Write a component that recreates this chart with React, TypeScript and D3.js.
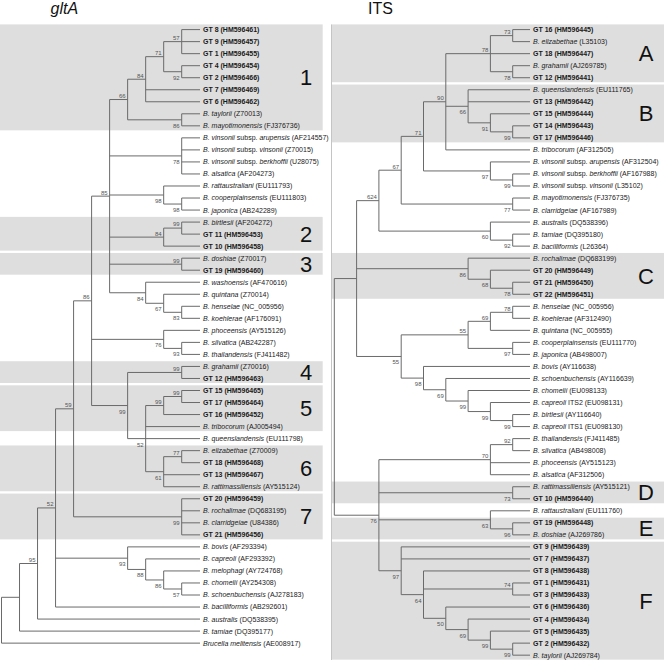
import React from "react";
import * as d3 from "d3";

// ---------------- DATA ----------------
// gltA tree leaves (top to bottom). "!" = bold, *...* = italic
const GLTA_LEAVES = [
  "!GT 8 (HM596461)", "!GT 9 (HM596457)", "!GT 1 (HM596455)", "!GT 4 (HM596454)", "!GT 2 (HM596466)",
  "!GT 7 (HM596469)", "!GT 6 (HM596462)", "*B. taylorii* (Z70013)", "*B. mayotimonensis* (FJ376736)",
  "*B. vinsonii* subsp. *arupensis* (AF214557)", "*B. vinsonii* subsp. *vinsonii* (Z70015)",
  "*B. vinsonii* subsp. *berkhoffii* (U28075)", "*B. alsatica* (AF204273)", "*B. rattaustraliani* (EU111793)",
  "*B. cooperplainsensis* (EU111803)", "*B. japonica* (AB242289)", "*B. birtlesii* (AF204272)",
  "!GT 11 (HM596453)", "!GT 10 (HM596458)", "*B. doshiae* (Z70017)", "!GT 19 (HM596460)",
  "*B. washoensis* (AF470616)", "*B. quintana* (Z70014)", "*B. henselae* (NC_005956)",
  "*B. koehlerae* (AF176091)", "*B. phoceensis* (AY515126)", "*B. silvatica* (AB242287)",
  "*B. thailandensis* (FJ411482)", "*B. grahamii* (Z70016)", "!GT 12 (HM596463)", "!GT 15 (HM596465)",
  "!GT 17 (HM596464)", "!GT 16 (HM596452)", "*B. tribocorum* (AJ005494)", "*B. queenslandensis* (EU111798)",
  "*B. elizabethae* (Z70009)", "!GT 18 (HM596468)", "!GT 13 (HM596467)", "*B. rattimassiliensis* (AY515124)",
  "!GT 20 (HM596459)", "*B. rochalimae* (DQ683195)", "*B. clarridgeiae* (U84386)", "!GT 21 (HM596456)",
  "*B. bovis* (AF293394)", "*B. capreoli* (AF293392)", "*B. melophagi* (AY724768)", "*B. chomelii* (AY254308)",
  "*B. schoenbuchensis* (AJ278183)", "*B. bacilliformis* (AB292601)", "*B. australis* (DQ538395)",
  "*B. tamiae* (DQ395177)", "*Brucella melitensis* (AE008917)",
];

// Newick topology (leaf ids index the leaves array); label^ = bootstrap above branch, label_ = below
const GLTA_TREE =
  "((((((" +
  "(((((0,1,2)57^,(3,4)92_)71^,5,6)84^,(7,8)86_)66^,(9,10,11,12)78_,(13,(14,15)98_)98_," +
  "((16,17)99^,18)84^,(19,20)99^,(21,(22,(23,24)83_)67_)84_)85^," +
  "(25,(26,27)93_)76_," +
  "((28,29)99^,(((30,31)99^,32)99^,33,34,((35,36)77^,37,38)61_)52_)99_)86^," +
  "(39,40,41,42)99_)59^," +
  "(43,(44,(45,(46,47)57_)86_)88_)93_,48)52^,49)95^,50),51)";

const GLTA_BOX_LABELS = ["1", "2", "3", "4", "5", "6", "7"];
const GLTA_BOX_FIRST = [0, 16, 19, 28, 30, 35, 39];
const GLTA_BOX_LAST = [8, 18, 20, 29, 33, 38, 42];

// ITS tree leaves
const ITS_LEAVES = [
  "!GT 16 (HM596445)", "*B. elizabethae* (L35103)", "!GT 18 (HM596447)", "*B. grahamii* (AJ269785)",
  "!GT 12 (HM596441)", "*B. queenslandensis* (EU111765)", "!GT 13 (HM596442)", "!GT 15 (HM596444)",
  "!GT 14 (HM596443)", "!GT 17 (HM596446)", "*B. tribocorum* (AF312505)",
  "*B. vinsonii* subsp. *arupensis* (AF312504)", "*B. vinsonii* subsp. *berkhoffii* (AF167988)",
  "*B. vinsonii* subsp. *vinsonii* (L35102)", "*B. mayotimonensis* (FJ376735)", "*B. clarridgeiae* (AF167989)",
  "*B. australis* (DQ538396)", "*B. tamiae* (DQ395180)", "*B. bacilliformis* (L26364)",
  "*B. rochalimae* (DQ683199)", "!GT 20 (HM596449)", "!GT 21 (HM596450)", "!GT 22 (HM596451)",
  "*B. henselae* (NC_005956)", "*B. koehlerae* (AF312490)", "*B. quintana* (NC_005955)",
  "*B. cooperplainsensis* (EU111770)", "*B. japonica* (AB498007)", "*B. bovis* (AY116638)",
  "*B. schoenbuchensis* (AY116639)", "*B. chomelii* (EU098133)", "*B. capreoli* ITS2 (EU098131)",
  "*B. birtlesii* (AY116640)", "*B. capreoli* ITS1 (EU098130)", "*B. thailandensis* (FJ411485)",
  "*B. silvatica* (AB498008)", "*B. phoceensis* (AY515123)", "*B. alsatica* (AF312506)",
  "*B. rattimassiliensis* (AY515121)", "!GT 10 (HM596440)", "*B. rattaustraliani* (EU111760)",
  "!GT 19 (HM596448)", "*B. doshiae* (AJ269786)", "!GT 9 (HM596439)", "!GT 7 (HM596437)",
  "!GT 8 (HM596438)", "!GT 1 (HM596431)", "!GT 3 (HM596433)", "!GT 6 (HM596436)", "!GT 4 (HM596434)",
  "!GT 5 (HM596435)", "!GT 2 (HM596432)", "*B. taylorii* (AJ269784)",
];

const ITS_TREE =
  "((((((((0,1)73^,2,(3,4)78_)78^,(5,6,(7,(8,9)99_)91_)66_,10)90^,(11,(12,13)99_)97_)71^,(14,15)77_)67^," +
  "(16,(17,18)92_)60_)624^," +
  "(19,(20,(21,22)78_)68_)86_," +
  "((((23,24)78^,25)69^,(26,27)97_)55^,(28,(29,(30,(31,(32,33)99_)99_)99_)69_)98_)55_)," +
  "(((34,35)92^,36,37)70^,(38,39)73_,(40,(41,42)96_)63_," +
  "(43,44,(45,(46,47)74^,(48,(49,(50,(51,52)99_)99_)69_)50_)64_)97_)76_)";

const ITS_BOX_LABELS = ["A", "B", "C", "D", "E", "F"];
const ITS_BOX_FIRST = [0, 5, 19, 38, 41, 43];
const ITS_BOX_LAST = [4, 9, 22, 39, 42, 52];

// ---------------- LAYOUT ----------------
const W = 664;
const H = 660;
const ROW0 = 29.6;
const ROW = 12.03;
const FONT = "'Liberation Sans', Arial, Helvetica, sans-serif";
const LINE = "#6a6a6a";
const BOX = "#dedede";

type PNode = { children?: PNode[]; leaf?: number; label?: string; below?: boolean };

function parseNewick(src: string): PNode {
  const s = src.replace(/\s+/g, "");
  let i = 0;
  function parse(): PNode {
    if (s[i] === "(") {
      i++;
      const children: PNode[] = [];
      while (i < s.length) {
        children.push(parse());
        if (s[i] === ",") { i++; continue; }
        if (s[i] === ")") { i++; break; }
      }
      let lab = "";
      while (i < s.length && /[0-9\^_]/.test(s[i])) { lab += s[i]; i++; }
      const node: PNode = { children };
      if (lab) {
        node.below = lab.endsWith("_");
        node.label = lab.replace(/[\^_]/g, "");
      }
      return node;
    }
    let num = "";
    while (i < s.length && /[0-9]/.test(s[i])) { num += s[i]; i++; }
    return { leaf: +num };
  }
  return parse();
}

function LeafText({ s, x, y }: { s: string; x: number; y: number }) {
  const bold = s.startsWith("!");
  const body = bold ? s.slice(1) : s;
  const parts = body.split("*");
  return (
    <text x={x} y={y} dy="0.35em" fontSize={7} fontWeight={bold ? "bold" : "normal"} fill="#1a1a1a"
      style={{ whiteSpace: "pre" }}>
      {parts.map((p, k) =>
        p ? <tspan key={k} fontStyle={k % 2 === 1 ? "italic" : "normal"}>{p}</tspan> : null
      )}
    </text>
  );
}

function Tree({ newick, leaves, leafX, x1, xRoot, boxLabels, boxFirst, boxLast, boxX0, boxX1, boxLabelX }: any) {
  const root: any = d3.hierarchy(parseNewick(newick), (d: PNode) => d.children);
  const yScale = d3.scaleLinear().domain([0, leaves.length - 1]).range([ROW0, ROW0 + ROW * (leaves.length - 1)]);
  const xScale = d3.scaleLinear().domain([1, root.height]).range([x1, xRoot]);
  root.eachAfter((n: any) => {
    if (!n.children) {
      n.py = yScale(n.data.leaf);
      n.px = leafX;
    } else {
      n.py = (n.children[0].py + n.children[n.children.length - 1].py) / 2;
      n.px = xScale(n.height);
    }
  });
  const internals = root.descendants().filter((n: any) => n.children);
  const leafNodes = root.leaves();

  return (
    <g>
      {boxLabels.map((lab: string, k: number) => {
        const top = yScale(boxFirst[k]) - 5.2;
        const bot = Math.min(yScale(boxLast[k]) + 4.5, H);
        return (
          <g key={"b" + k}>
            <rect x={boxX0} y={top} width={boxX1 - boxX0} height={bot - top} fill={BOX} />
            <text x={boxLabelX} y={(top + bot) / 2} dy="0.36em" fontSize={22} textAnchor="middle" fill="#111">
              {lab}
            </text>
          </g>
        );
      })}
      {internals.map((n: any, k: number) => (
        <g key={"n" + k}>
          <line x1={n.px} x2={n.px} y1={n.children[0].py} y2={n.children[n.children.length - 1].py}
            stroke={LINE} strokeWidth={1} />
          {n.children.map((c: any, j: number) => (
            <line key={j} x1={n.px} x2={c.px} y1={c.py} y2={c.py} stroke={LINE} strokeWidth={1} />
          ))}
          {n.data.label ? (
            <text x={n.px - 2} y={n.data.below ? n.py + 8 : n.py - 1.6} fontSize={6} textAnchor="end" fill="#555">
              {n.data.label}
            </text>
          ) : null}
        </g>
      ))}
      {leafNodes.map((n: any, k: number) => (
        <LeafText key={"l" + k} s={leaves[n.data.leaf]} x={leafX + 3} y={n.py} />
      ))}
    </g>
  );
}

export default function App() {
  return (
    <svg width={W} height={H} viewBox={`0 0 ${W} ${H}`}
      style={{ position: "absolute", left: 0, top: 0, background: "#fff", fontFamily: FONT }}>
      <rect x={0} y={0} width={W} height={H} fill="#fff" />
      <text x={50.5} y={13.5} fontSize={16} fontStyle="italic" fill="#111">gltA</text>
      <text x={368} y={13.5} fontSize={16} fill="#111">ITS</text>
      <Tree newick={GLTA_TREE} leaves={GLTA_LEAVES} leafX={200} x1={181.7} xRoot={1.5}
        boxLabels={GLTA_BOX_LABELS} boxFirst={GLTA_BOX_FIRST} boxLast={GLTA_BOX_LAST}
        boxX0={0} boxX1={322.7} boxLabelX={306} />
      <Tree newick={ITS_TREE} leaves={ITS_LEAVES} leafX={530} x1={512.7} xRoot={334.3}
        boxLabels={ITS_BOX_LABELS} boxFirst={ITS_BOX_FIRST} boxLast={ITS_BOX_LAST}
        boxX0={332} boxX1={664} boxLabelX={646} />
      <line x1={331.5} x2={331.5} y1={24.4} y2={H} stroke="#c4c4c4" strokeWidth={1} />
    </svg>
  );
}
